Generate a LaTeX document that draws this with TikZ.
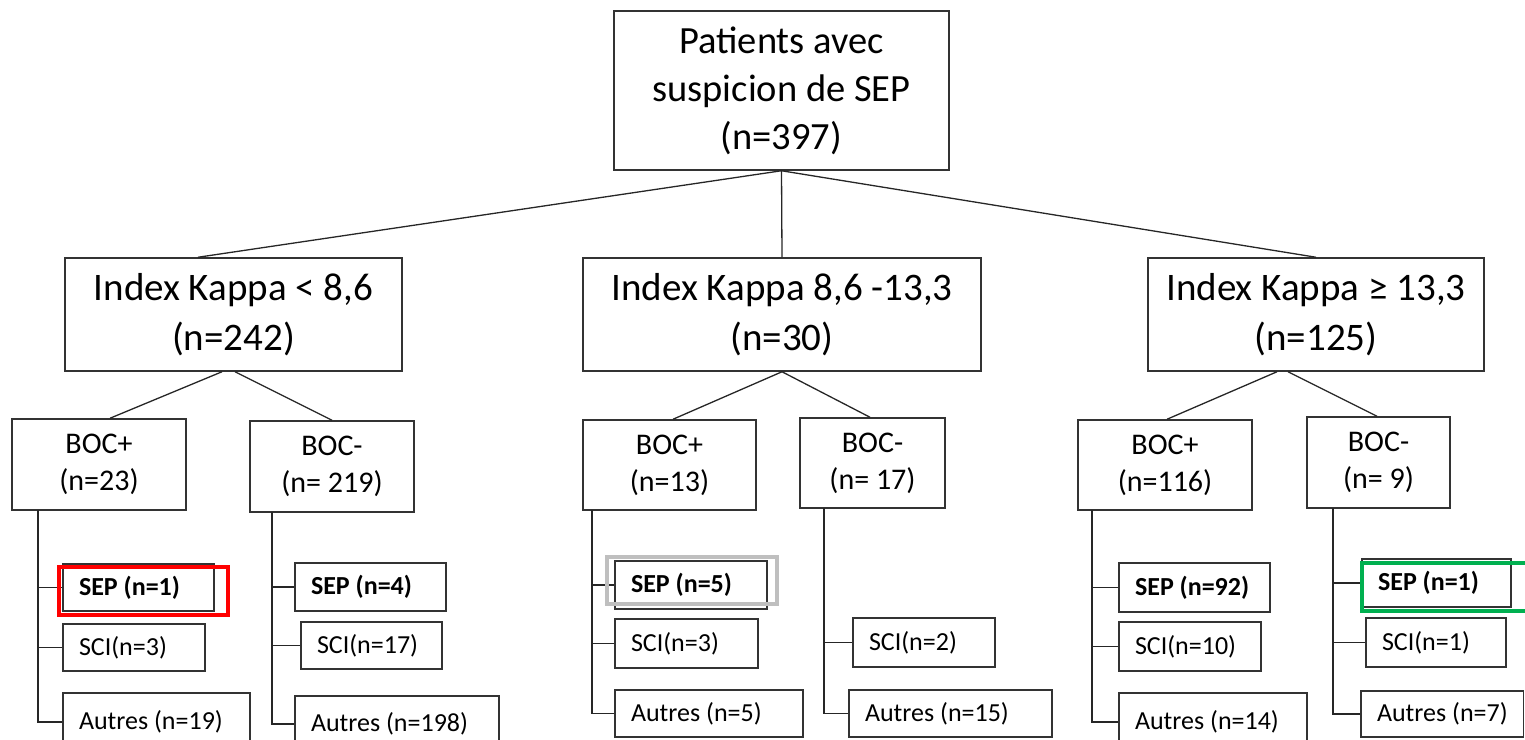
\documentclass[tikz,border=0pt]{standalone}
\usepackage{fontspec}
\setmainfont{Carlito}
\newcommand{\LeafNode}[7][]{%
  \pgfmathsetmacro\LW{#5-#3}%
  \pgfmathsetmacro\LH{#6-#4}%
  \pgfmathsetmacro\LT{#5-#3-32}%
  \node[leaf,#1,minimum width=\LW pt,minimum height=\LH pt] (#2) at ({(#3+#5)/2},{(#4+#6)/2}) {\makebox[\LT pt][l]{#7}};}
\newcommand{\CBoxNode}[7][]{%
  \pgfmathsetmacro\LW{#5-#3}%
  \pgfmathsetmacro\LH{#6-#4}%
  \node[cbox,#1,minimum width=\LW pt,minimum height=\LH pt] (#2) at ({(#3+#5)/2},{(#4+#6)/2}) {#7};}
\definecolor{hlgreen}{RGB}{0,176,80}
\definecolor{hlgrey}{RGB}{191,191,191}
\begin{document}
\begin{tikzpicture}[x=1pt,y=-1pt,
  cbox/.style={draw=black!80,line width=1.5pt,inner sep=0pt,align=center,fill=white},
  bigtext/.style={font=\fontsize{38.5}{48}\selectfont},
  idxtext/.style={font=\fontsize{39}{50}\selectfont},
  boctext/.style={font=\fontsize{30}{37}\selectfont},
  leaf/.style={draw=black!80,line width=1.5pt,inner xsep=16pt,inner ysep=0pt,font=\fontsize{26}{30}\selectfont},
  conn/.style={draw=black!85,line width=1.3pt},
  hl/.style={line width=4pt}]
\useasboundingbox (0,0) rectangle (1525,739);
\clip (0,0) rectangle (1525,739);
% top
\CBoxNode[bigtext]{top}{614}{11}{949}{170}{Patients avec\\suspicion de SEP\\(n=397)}
% index row
\CBoxNode[idxtext]{idx1}{65}{258}{402}{371}{Index Kappa < 8,6\\(n=242)}
\CBoxNode[idxtext]{idx2}{583}{258}{981}{371}{Index Kappa 8,6 -13,3\\(n=30)}
\CBoxNode[idxtext]{idx3}{1148}{258}{1484}{371}{Index Kappa ≥ 13,3\\(n=125)}
\draw[conn] (top.south) -- ([xshift=-35.5pt]idx1.north);
\draw[conn] (top.south) -- (idx2.north);
\draw[conn] (top.south) -- (idx3.north);
% BOC row
\CBoxNode[boctext]{bp1}{12}{419}{186}{510}{BOC+\\(n=23)}
\CBoxNode[boctext]{bm1}{250}{421}{414}{512}{BOC-\\(n= 219)}
\CBoxNode[boctext]{bp2}{583}{420}{756}{510}{BOC+\\(n=13)}
\CBoxNode[boctext]{bm2}{800}{418}{945}{508}{BOC-\\(n= 17)}
\CBoxNode[boctext]{bp3}{1078}{420}{1252}{510}{BOC+\\(n=116)}
\CBoxNode[boctext]{bm3}{1307}{417}{1450}{508}{BOC-\\(n= 9)}
\draw[conn] ([xshift=-11.5pt]idx1.south) -- ([xshift=11pt]bp1.north);
\draw[conn] ([xshift=1.5pt]idx1.south) -- (bm1.north);
\draw[conn] (idx2.south) -- ([xshift=3.5pt]bp2.north);
\draw[conn] (idx2.south) -- ([xshift=-2.5pt]bm2.north);
\draw[conn] ([xshift=-39pt]idx3.south) -- ([xshift=2pt]bp3.north);
\draw[conn] ([xshift=-28pt]idx3.south) -- ([xshift=-1.5pt]bm3.north);
% leaves group 1
\LeafNode{s1}{63}{564}{214}{611}{\textbf{SEP (n=1)}}
\LeafNode{c1}{63}{624}{205}{671}{SCI(n=3)}
\LeafNode{a1}{63}{693}{250}{751}{Autres (n=19)}
\LeafNode{s2}{295}{563}{446}{611}{\textbf{SEP (n=4)}}
\LeafNode{c2}{301}{622}{442}{669}{SCI(n=17)}
\LeafNode{a2}{295}{696}{499}{752}{Autres (n=198)}
% leaves group 2
\LeafNode{s3}{615}{561}{767}{609}{\textbf{SEP (n=5)}}
\LeafNode{c3}{615}{619}{758}{668}{SCI(n=3)}
\LeafNode{a3}{615}{690}{803}{737}{Autres (n=5)}
\LeafNode{c4}{853}{618}{995}{667}{SCI(n=2)}
\LeafNode{a4}{849}{690}{1052}{737}{Autres (n=15)}
% leaves group 3
\LeafNode{s5}{1119}{563}{1270}{612}{\textbf{SEP (n=92)}}
\LeafNode{c5}{1119}{622}{1261}{671}{SCI(n=10)}
\LeafNode{a5}{1119}{693}{1307}{751}{Autres (n=14)}
\LeafNode{s6}{1362}{559}{1511}{607}{\textbf{SEP (n=1)}}
\LeafNode{c6}{1366}{618}{1506}{667}{SCI(n=1)}
\LeafNode{a6}{1361}{691}{1523.5}{737}{Autres (n=7)}
% trunks
\coordinate (t1) at (38,510);
\coordinate (t2) at (272,512);
\coordinate (t3) at (592,510);
\coordinate (t4) at (824,508);
\coordinate (t5) at (1092,510);
\coordinate (t6) at (1333,508);
\draw[conn] (t1) |- (a1.west);
\draw[conn] (t1 |- s1.west) -- (s1.west);
\draw[conn] (t1 |- c1.west) -- (c1.west);
\draw[conn] (t2) |- (a2.west);
\draw[conn] (t2 |- s2.west) -- (s2.west);
\draw[conn] (t2 |- c2.west) -- (c2.west);
\draw[conn] (t3) |- (a3.west);
\draw[conn] (t3 |- s3.west) -- (s3.west);
\draw[conn] (t3 |- c3.west) -- (c3.west);
\draw[conn] (t4) |- (a4.west);
\draw[conn] (t4 |- c4.west) -- (c4.west);
\draw[conn] (t5) |- (a5.west);
\draw[conn] (t5 |- s5.west) -- (s5.west);
\draw[conn] (t5 |- c5.west) -- (c5.west);
\draw[conn] (t6) |- (a6.west);
\draw[conn] (t6 |- s6.west) -- (s6.west);
\draw[conn] (t6 |- c6.west) -- (c6.west);
% highlights
\draw[hl,red] (59,567) rectangle (228,615);
\draw[hl,hlgrey] (607,557) rectangle (777,604);
\draw[hl,hlgreen] (1362,563) rectangle (1545,611);
\end{tikzpicture}
\end{document}
